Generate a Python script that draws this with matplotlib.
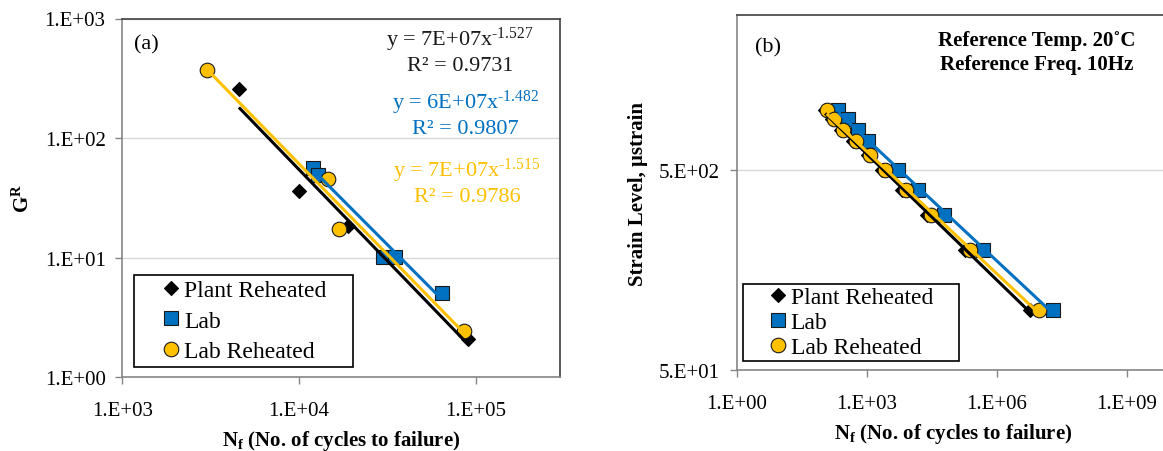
import numpy as np
import matplotlib
matplotlib.use("Agg")
import matplotlib.pyplot as plt
from matplotlib.ticker import FuncFormatter, NullLocator
from matplotlib.lines import Line2D

plt.rcParams['font.family'] = 'Liberation Serif'
plt.rcParams['mathtext.fontset'] = 'custom'
plt.rcParams['mathtext.rm'] = 'Liberation Serif'
plt.rcParams['mathtext.it'] = 'Liberation Serif:italic'
plt.rcParams['mathtext.bf'] = 'Liberation Serif:bold'

# ---- panel (a): G^R vs Nf ----
plant_nf_a = [4570, 10000, 19000, 90800]
plant_gr_a = [256, 36.3, 18.5, 2.09]
lab_nf_a = [12050, 12850, 30000, 34900, 64300]
lab_gr_a = [55.8, 49.4, 10.1, 10.1, 5.03]
labrh_nf_a = [3030, 14520, 16800, 85900]
labrh_gr_a = [369, 45.3, 17.4, 2.46]

# power-law trendlines
fit_coef = [7e7, 6e7, 7e7]
fit_exp = [-1.527, -1.482, -1.515]
fit_r2 = [0.9731, 0.9807, 0.9786]
fit_coef_txt = ['7E+07', '6E+07', '7E+07']

# ---- panel (b): strain level vs Nf ----
strain_lab = [1000, 900, 800, 700, 500, 400, 300, 200, 100]
nf_lab = [221, 365, 620, 1089, 5370, 15000, 61800, 491000, 2.03e7]
strain_rh = [1000, 900, 800, 700, 600, 500, 400, 300, 200, 100]
nf_labrh = [119, 176, 289, 557, 1191, 2644, 7940, 30000, 242000, 9.5e6]
nf_plant = [110, 160, 262, 480, 1050, 2300, 6600, 24500, 190000, 5.9e6]

names = ['Plant Reheated', 'Lab', 'Lab Reheated']
colors = ['#000000', '#0070C0', '#FFC000']
markers = ['D', 's', 'o']
msizes = [7.5, 10, 10.5]

W, H = 1163, 452
fig = plt.figure(figsize=(W / 100, H / 100), dpi=100)
ax1 = fig.add_axes([122.3 / W, 1 - 378.3 / H, (560 - 122.3) / W, (378.3 - 19.5) / H])
ax2 = fig.add_axes([736.7 / W, 1 - 371 / H, (1170 - 736.7) / W, (371 - 16) / H])


def sci_fmt(v, pos):
    e = int(np.floor(np.log10(v) + 1e-9))
    m = int(round(v / 10 ** e))
    return f"{m}.E{e:+03d}"


FS = 15
axis_col = '#868686'

for ax in (ax1, ax2):
    ax.set_xscale('log')
    ax.set_yscale('log')
    ax.xaxis.set_minor_locator(NullLocator())
    ax.yaxis.set_minor_locator(NullLocator())
    ax.xaxis.set_major_formatter(FuncFormatter(sci_fmt))
    ax.yaxis.set_major_formatter(FuncFormatter(sci_fmt))
    ax.tick_params(axis='both', direction='out', length=5, width=1, color=axis_col,
                   labelsize=FS, pad=7)
    ax.tick_params(axis='x', pad=12)
    ax.yaxis.grid(True, color='#d9d9d9', lw=1)
    ax.set_axisbelow(True)
    for s in ['top', 'right']:
        ax.spines[s].set_color('#404040')
        ax.spines[s].set_linewidth(1.2)
    for s in ['left', 'bottom']:
        ax.spines[s].set_color(axis_col)
        ax.spines[s].set_linewidth(1.2)

# panel (a)
ax1.set_xlim(1e3, 3e5)
ax1.set_ylim(1, 1e3)
ax1.set_xticks([1e3, 1e4, 1e5])
ax1.set_yticks([1, 10, 100, 1000])

series_a = [(plant_nf_a, plant_gr_a), (lab_nf_a, lab_gr_a), (labrh_nf_a, labrh_gr_a)]
for i, (xs, ys) in enumerate(series_a):
    ax1.plot(xs, ys, ls='none', marker=markers[i], ms=msizes[i], mfc=colors[i],
             mec='#1a1a1a' if i else colors[i], mew=0.8, zorder=3 + i)
for i, (xs, ys) in enumerate(series_a):
    xx = np.array([min(xs), max(xs)])
    ax1.plot(xx, fit_coef[i] * xx ** fit_exp[i], color=colors[i], lw=2.2, zorder=7 + i,
             solid_capstyle='butt')

eq_pos = [(460, 40, 67), (465, 103, 129), (467, 171, 197)]
for i, (cx, y1, y2) in enumerate(eq_pos):
    expo = f"{fit_exp[i]:.3f}".replace('-', '\u2010')
    fig.text(cx / W, 1 - y1 / H, f"y = {fit_coef_txt[i]}x$^{{{expo}}}$",
             ha='center', va='center', fontsize=16, color=colors[i] if i else '#1a1a1a')
    fig.text(cx / W, 1 - y2 / H, f"R² = {fit_r2[i]:.4f}", ha='center', va='center',
             fontsize=16, color=colors[i] if i else '#1a1a1a')

fig.text(134 / W, 1 - 45 / H, "(a)", ha='left', va='center', fontsize=FS + 1)
ax1.set_ylabel(r"G$^\mathbf{R}$", fontsize=FS, fontweight='bold', labelpad=8)
ax1.set_xlabel(r"N$_\mathbf{f}$ (No. of cycles to failure)", fontsize=FS,
               fontweight='bold', labelpad=6)

# panel (b)
ax2.set_xlim(1, 1e10)
ax2.set_ylim(50, 3000)
ax2.set_xticks([1, 1e3, 1e6, 1e9])
ax2.set_yticks([50, 500])

series_b = [(nf_plant, strain_rh), (nf_lab, strain_lab), (nf_labrh, strain_rh)]
for i, (xs, ys) in enumerate(series_b):
    ax2.plot(xs, ys, ls='none', marker=markers[i], ms=msizes[i], mfc=colors[i],
             mec='#1a1a1a' if i else colors[i], mew=0.8, zorder=3 + i)
for i, (xs, ys) in enumerate(series_b):
    lx, ly = np.log10(xs), np.log10(ys)
    k, b = np.polyfit(lx, ly, 1)
    xx = np.array([min(lx), max(lx)])
    ax2.plot(10 ** xx, 10 ** (k * xx + b), color=colors[i], lw=2.2, zorder=7 + i,
             solid_capstyle='butt')

fig.text(768 / W, 1 - 48 / H, "(b)", ha='center', va='center', fontsize=FS + 1)
fig.text(1037 / W, 1 - 41 / H, "Reference Temp. 20\u02daC", ha='center', va='center',
         fontsize=FS, fontweight='bold')
fig.text(1037 / W, 1 - 65 / H, "Reference Freq. 10Hz", ha='center', va='center',
         fontsize=FS, fontweight='bold')
ax2.set_ylabel("Strain Level, \u03bcstrain", fontsize=FS, fontweight='bold', labelpad=8)
ax2.set_xlabel(r"N$_\mathbf{f}$ (No. of cycles to failure)", fontsize=FS,
               fontweight='bold', labelpad=6)

# legends
for ax, box, lsp, bpad in ((ax1, (134.3, 276, 353.3, 367.3), 0.37, 0.2),
                           (ax2, (743.3, 285, 959.3, 361.7), 0.16, 0.1)):
    handles = [Line2D([], [], ls='none', marker=markers[i], ms=msizes[i], mfc=colors[i],
                      mec='#1a1a1a' if i else colors[i], mew=0.8) for i in range(3)]
    x0, y0, x1, y1 = box
    leg = ax.legend(handles, names, loc='upper left',
                    bbox_to_anchor=(x0 / W, 1 - y1 / H, (x1 - x0) / W, (y1 - y0) / H),
                    bbox_transform=fig.transFigure, mode='expand', fontsize=17,
                    frameon=True, fancybox=False, framealpha=1, borderpad=bpad,
                    labelspacing=lsp, handlelength=2.7, handletextpad=-0.8,
                    borderaxespad=0)
    leg.get_frame().set_edgecolor('#000000')
    leg.get_frame().set_linewidth(1.2)
    leg.set_zorder(20)

fig.savefig("out.png", dpi=100)
